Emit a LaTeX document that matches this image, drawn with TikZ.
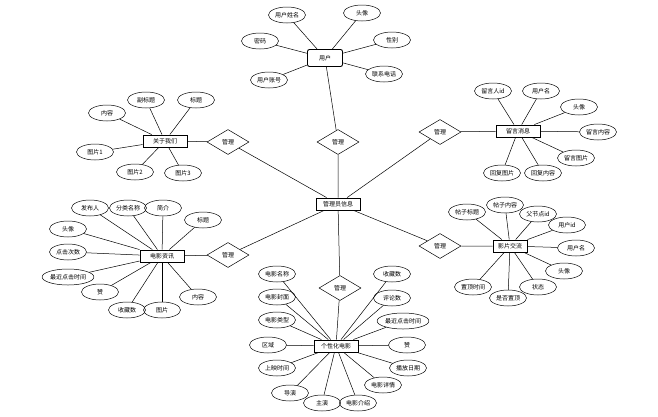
\documentclass[tikz,border=0pt]{standalone}
\usepackage{fontspec}
\setmainfont{Noto Sans CJK SC}
\usetikzlibrary{shapes.geometric}

\begin{document}
\begin{tikzpicture}[x=1pt,y=-1pt,line width=0.5pt,
		every node/.style={font=\fontsize{6}{7}\selectfont},
		attr/.style={ellipse,draw,inner sep=0.3pt,minimum width=37pt,minimum height=16pt},
		ent/.style={rectangle,draw,line width=0.9pt,minimum width=44pt,minimum height=12pt,inner sep=1pt},
		rel/.style={diamond,draw,aspect=1.7,minimum width=42pt,minimum height=25pt,inner sep=0pt}]
				\useasboundingbox (0,0) rectangle (658,416);
				
				% entities
				\node[ent,rounded corners=2pt,minimum width=35pt,minimum height=17pt] (user) at (325,58) {用户};
				\node[ent] (admin) at (338,204) {管理员信息};
				\node[ent] (about) at (165,141) {关于我们};
				\node[ent] (msg) at (518,131) {留言消息};
				\node[ent,minimum width=34pt] (forum) at (510,246) {影片交流};
				\node[ent] (news) at (162,256) {电影资讯};
				\node[ent] (movie) at (336,346) {个性化电影};
				
				% relations
				\foreach \n/\x/\y/\e in {r1/338/142/user, r2/228/142/about, r3/440/132/msg, r4/228/255/news, r5/440/246/forum, r6/340/288/movie}{
					\node[rel] (\n) at (\x,\y) {管理};
					\draw (\e) -- (\n) -- (admin);
				}
				
				% attributes
				\foreach \t/\x/\y [count=\i] in {用户姓名/287/15, 头像/362/13, 密码/260/41, 性别/392/40, 用户账号/269/80, 联系电话/384/74}{
					\node[attr] (u\i) at (\x,\y) {\t};
					\draw (user) -- (u\i);
				}
				\foreach \t/\x/\y [count=\i] in {内容/107/113, 副标题/146/100, 标题/196/100, 图片1/95/152, 图片2/135/172, 图片3/183/173}{
					\node[attr] (a\i) at (\x,\y) {\t};
					\draw (about) -- (a\i);
				}
				\foreach \t/\x/\y [count=\i] in {留言人id/493/91, 用户名/541/91, 头像/579/107, 留言内容/598/132, 留言图片/576/158, 回复图片/502/173, 回复内容/543/173}{
					\node[attr] (m\i) at (\x,\y) {\t};
					\draw (msg) -- (m\i);
				}
				\foreach \t/\x/\y [count=\i] in {发布人/90/208, 分类名称/128/208, 简介/163/208, 标题/203/220, 头像/68/229, 点击次数/68/252, 最近点击时间/68/277, 赞/100/292, 收藏数/127/310, 图片/162/310, 内容/198/297}{
					\node[attr] (n\i) at (\x,\y) {\t};
					\draw (news) -- (n\i);
				}
				\foreach \t/\x/\y [count=\i] in {帖子标题/467/212, 帖子内容/505/205, 父节点id/538/214, 用户id/567/225, 用户名/576/248, 头像/564/271, 状态/538/287, 是否置顶/508/298, 置顶时间/473/287}{
					\node[attr] (f\i) at (\x,\y) {\t};
					\draw (forum) -- (f\i);
				}
				\foreach \t/\x/\y [count=\i] in {电影名称/277/274, 电影封面/277/297, 电影类型/277/320, 区域/268/345, 上映时间/277/368, 导演/290/393, 主演/322/403, 电影介绍/358/403, 电影详情/383/385, 播放日期/408/368, 赞/407/345, 最近点击时间/403/321, 评论数/392/298, 收藏数/392/274}{
					\node[attr] (p\i) at (\x,\y) {\t};
					\draw (movie) -- (p\i);
				}
			\end{tikzpicture}
\end{document}
